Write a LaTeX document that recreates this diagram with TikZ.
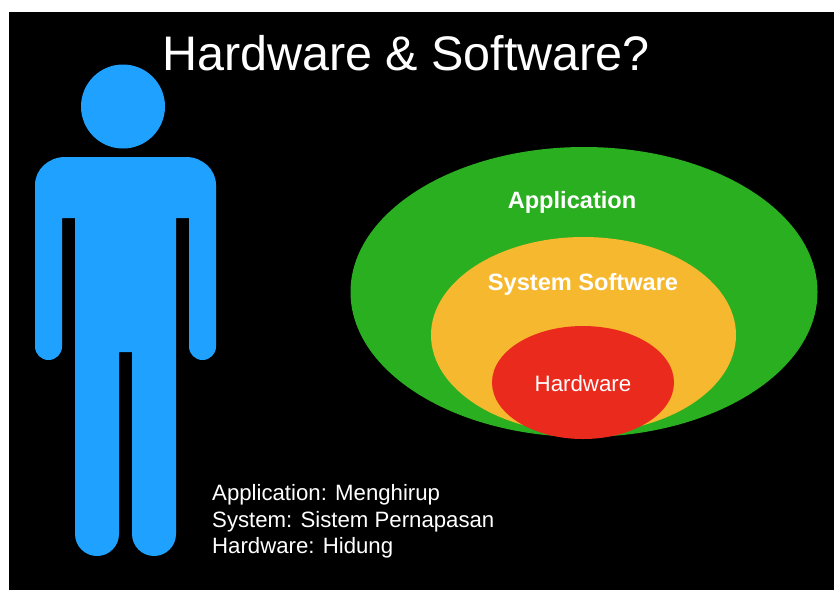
\documentclass[tikz,border=0pt]{standalone}
\usepackage{fontspec}
\setmainfont{Liberation Sans}
\usetikzlibrary{shapes.geometric, positioning}
\definecolor{personblue}{HTML}{1EA1FF}
\definecolor{appgreen}{HTML}{2AAF20}
\definecolor{sysyellow}{HTML}{F6B82E}
\definecolor{hwred}{HTML}{EB2A1E}
\tikzstyle{layer} = [
	ellipse,
	inner sep=0pt,
	draw=none,
]
\tikzstyle{label} = [
	text=white,
	inner sep=0pt,
	font=\bfseries\fontsize{23.6}{27}\selectfont,
]
\tikzstyle{note} = [
	text=white,
	inner sep=0pt,
	anchor=west,
	font=\fontsize{22.2}{26}\selectfont,
]

\begin{document}
\begin{tikzpicture}[x=1pt, y=-1pt]
		\useasboundingbox (0, 0) rectangle (834, 590);
		\fill [white] (0, 0) rectangle (834, 590);
		\fill [black] (9, 12) rectangle (834, 590);

		\node (title) [text=white, inner sep=0pt, font=\fontsize{48.5}{52}\selectfont] at (406, 53) {Hardware \& Software?};

		% person
		\node (head) [circle, fill=personblue, minimum size=84pt, inner sep=0pt] at (123, 106.5) {};
		\fill [personblue] (35, 185) arc[start angle=180, end angle=270, x radius=30, y radius=28] -- (186, 157)
			arc[start angle=270, end angle=360, x radius=30, y radius=28] -- (216, 346.5)
			arc[start angle=0, end angle=180, radius=13.5] -- (189, 218) -- (176, 218) -- (176, 534)
			arc[start angle=0, end angle=180, radius=22] -- (132, 352) -- (119, 352) -- (119, 534)
			arc[start angle=0, end angle=180, radius=22] -- (75, 218) -- (62, 218) -- (62, 346.5)
			arc[start angle=0, end angle=180, radius=13.5] -- cycle;

		% layers
		\node (app) [layer, fill=appgreen, minimum width=467pt, minimum height=290pt] at (584, 292) {};
		\node (sys) [layer, fill=sysyellow, minimum width=305pt, minimum height=196pt] at (583.5, 335) {};
		\node (hw) [layer, fill=hwred, minimum width=182pt, minimum height=113pt] at (583, 382.5) {};
		\node (applabel) [label] at (572, 202.5) {Application};
		\node (syslabel) [label] at (583, 284.5) {System Software};
		\node (hwlabel) [label, font=\fontsize{22.3}{26}\selectfont] at (583, 384) {Hardware};

		% notes
		\node (noteapp) [note] at (212, 495) {Application: Menghirup};
		\node (notesys) [note] at (212, 521.5) {System: Sistem Pernapasan};
		\node (notehw) [note] at (212, 548) {Hardware: Hidung};
	\end{tikzpicture}
\end{document}
